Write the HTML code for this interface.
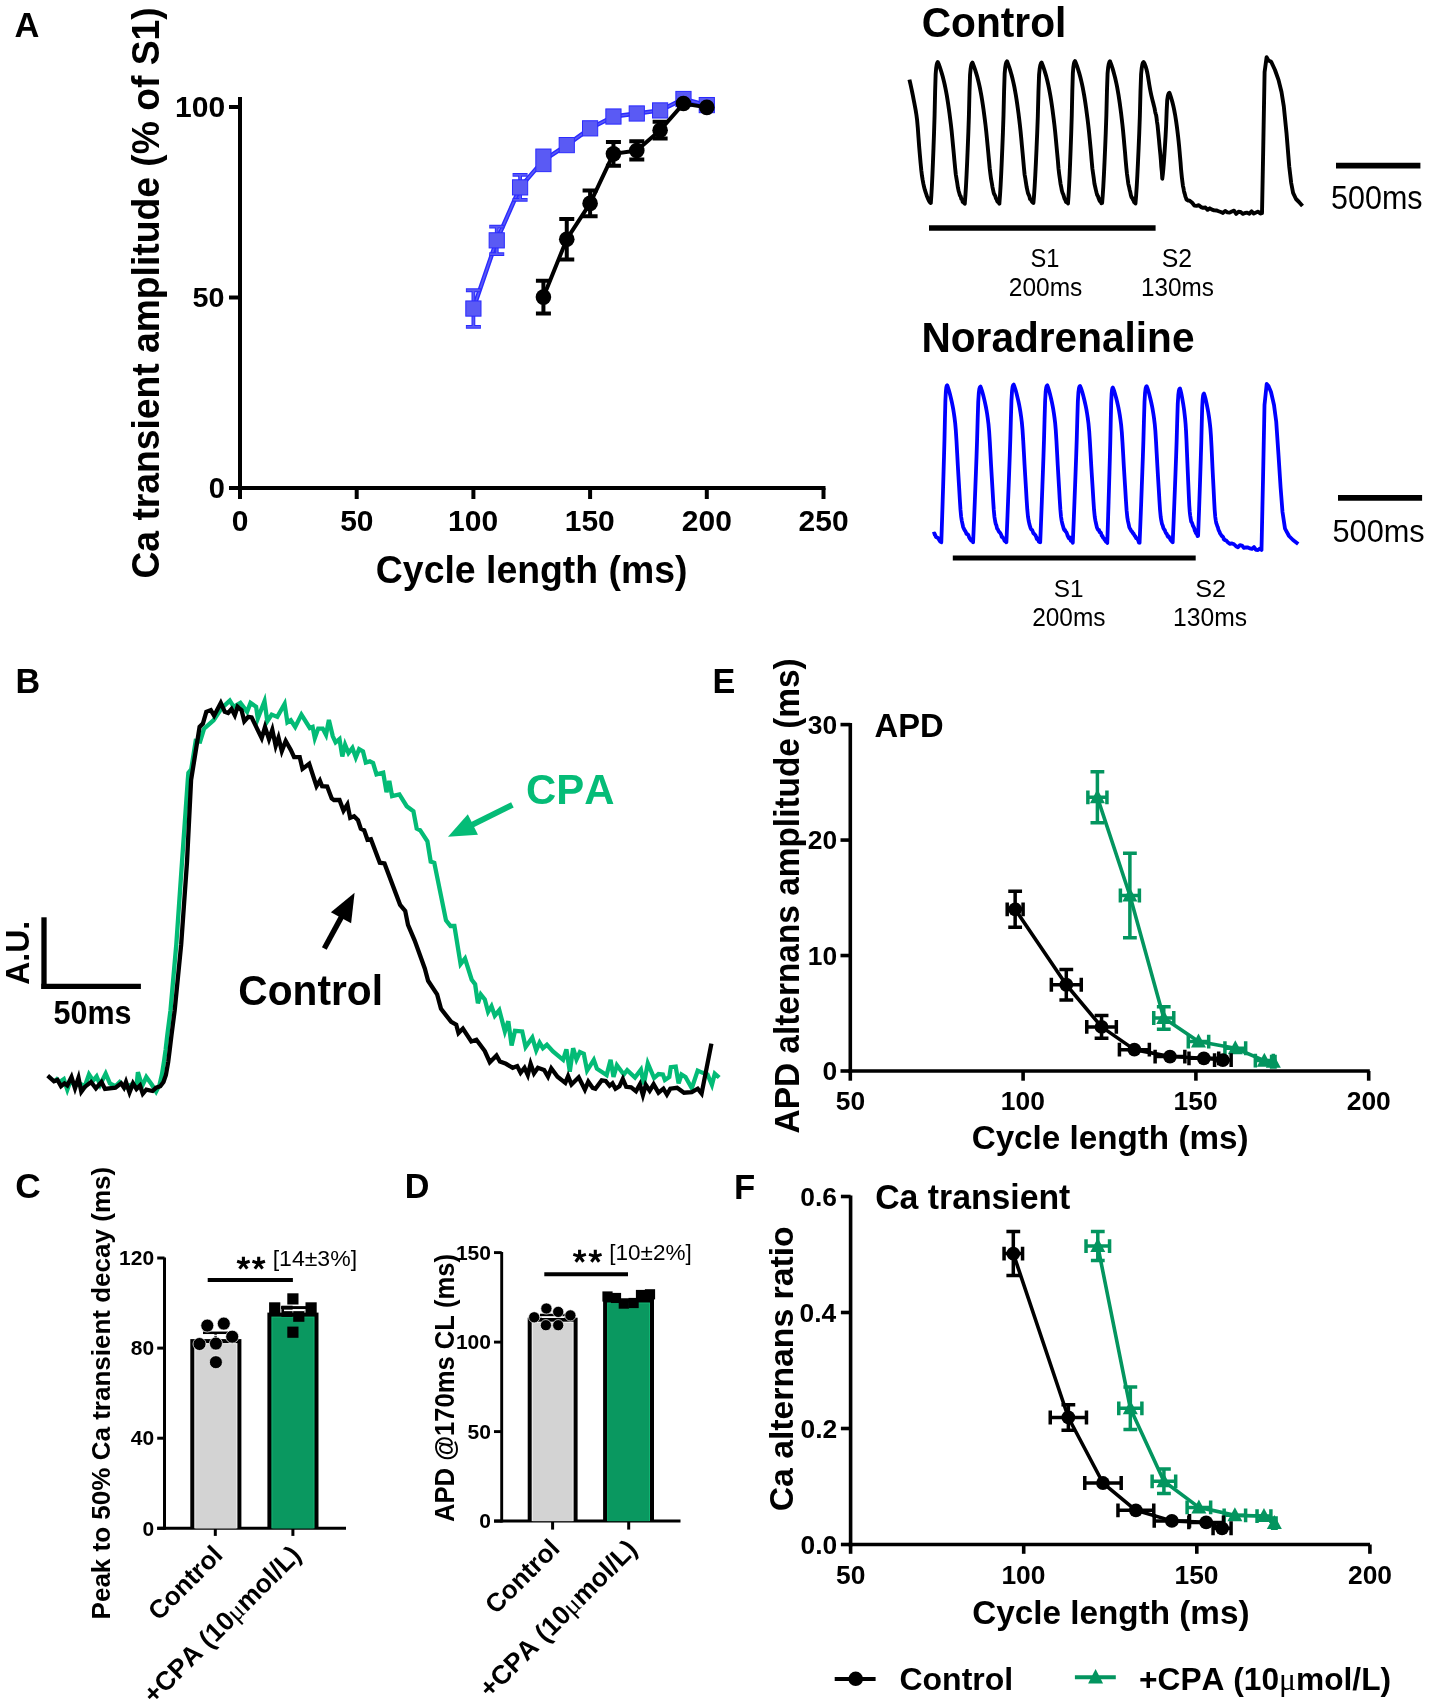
<!DOCTYPE html>
<html><head><meta charset="utf-8"><style>html,body{margin:0;padding:0;background:#fff;}svg{display:block;will-change:transform}text{font-kerning:none;font-feature-settings:'kern' 0;}</style></head>
<body><svg width="1430" height="1705" viewBox="0 0 1430 1705">
<rect width="1430" height="1705" fill="#fff"/>
<text transform="translate(14.44,36.90) scale(1.0000,1)" font-family="'Liberation Sans', sans-serif" font-weight="bold" font-size="34.45" fill="#000">A</text>
<line x1="240.00" y1="97.00" x2="240.00" y2="490.00" stroke="#000" stroke-width="4" stroke-linecap="butt"/>
<line x1="238.00" y1="488.00" x2="825.50" y2="488.00" stroke="#000" stroke-width="4" stroke-linecap="butt"/>
<line x1="229.00" y1="488.00" x2="240.00" y2="488.00" stroke="#000" stroke-width="4" stroke-linecap="butt"/>
<line x1="229.00" y1="297.50" x2="240.00" y2="297.50" stroke="#000" stroke-width="4" stroke-linecap="butt"/>
<line x1="229.00" y1="107.00" x2="240.00" y2="107.00" stroke="#000" stroke-width="4" stroke-linecap="butt"/>
<line x1="240.00" y1="488.00" x2="240.00" y2="499.00" stroke="#000" stroke-width="4" stroke-linecap="butt"/>
<line x1="356.70" y1="488.00" x2="356.70" y2="499.00" stroke="#000" stroke-width="4" stroke-linecap="butt"/>
<line x1="473.40" y1="488.00" x2="473.40" y2="499.00" stroke="#000" stroke-width="4" stroke-linecap="butt"/>
<line x1="590.10" y1="488.00" x2="590.10" y2="499.00" stroke="#000" stroke-width="4" stroke-linecap="butt"/>
<line x1="706.80" y1="488.00" x2="706.80" y2="499.00" stroke="#000" stroke-width="4" stroke-linecap="butt"/>
<line x1="823.50" y1="488.00" x2="823.50" y2="499.00" stroke="#000" stroke-width="4" stroke-linecap="butt"/>
<text transform="translate(175.11,116.60) scale(0.9939,1)" font-family="'Liberation Sans', sans-serif" font-weight="bold" font-size="30.23" fill="#000">100</text>
<text transform="translate(192.62,306.53) scale(1.0380,1)" font-family="'Liberation Sans', sans-serif" font-weight="bold" font-size="27.68" fill="#000">50</text>
<text transform="translate(208.65,497.51) scale(0.9783,1)" font-family="'Liberation Sans', sans-serif" font-weight="bold" font-size="29.66" fill="#000">0</text>
<text transform="translate(231.68,531.40) scale(0.9925,1)" font-family="'Liberation Sans', sans-serif" font-weight="bold" font-size="30.23" fill="#000">0</text>
<text transform="translate(340.17,531.40) scale(0.9925,1)" font-family="'Liberation Sans', sans-serif" font-weight="bold" font-size="30.23" fill="#000">50</text>
<text transform="translate(448.04,531.40) scale(0.9925,1)" font-family="'Liberation Sans', sans-serif" font-weight="bold" font-size="30.23" fill="#000">100</text>
<text transform="translate(564.74,531.40) scale(0.9925,1)" font-family="'Liberation Sans', sans-serif" font-weight="bold" font-size="30.23" fill="#000">150</text>
<text transform="translate(681.87,531.40) scale(0.9925,1)" font-family="'Liberation Sans', sans-serif" font-weight="bold" font-size="30.23" fill="#000">200</text>
<text transform="translate(798.57,531.40) scale(0.9925,1)" font-family="'Liberation Sans', sans-serif" font-weight="bold" font-size="30.23" fill="#000">250</text>
<text transform="translate(159.25,578.53) rotate(-90) scale(0.9728,1)" font-family="'Liberation Sans', sans-serif" font-weight="bold" font-size="38.30" fill="#000">Ca transient amplitude (% of S1)</text>
<text transform="translate(375.87,583.17) scale(0.9865,1)" font-family="'Liberation Sans', sans-serif" font-weight="bold" font-size="37.91" fill="#000">Cycle length (ms)</text>
<polyline points="473.40,308.55 496.74,240.35 520.08,187.39 543.42,160.34 566.76,145.10 590.10,128.34 613.44,116.52 636.78,113.48 660.12,110.43 683.46,99.00 706.80,105.09" fill="none" stroke="#2b2bff" stroke-width="4.4" stroke-linejoin="round" stroke-linecap="butt"/>
<polyline points="473.40,308.55 496.74,240.35 520.08,187.39 543.42,160.34 566.76,145.10 590.10,128.34 613.44,116.52 636.78,113.48 660.12,110.43 683.46,99.00 706.80,105.09" fill="none" stroke="#5a5af4" stroke-width="1.6" stroke-linejoin="round" stroke-linecap="butt"/>
<path d="M465.90,290.26H480.90M473.40,290.26V326.84M465.90,326.84H480.90" stroke="#2b2bff" stroke-width="3.8" fill="none"/>
<path d="M466.60,290.26H480.20M473.40,290.26V326.84M466.60,326.84H480.20" stroke="#5a5af4" stroke-width="1.8" fill="none"/>
<rect x="465.80" y="300.95" width="15.20" height="15.20" fill="#5a5af4" stroke="#2b2bff" stroke-width="1"/>
<path d="M489.24,226.63H504.24M496.74,226.63V254.07M489.24,254.07H504.24" stroke="#2b2bff" stroke-width="3.8" fill="none"/>
<path d="M489.94,226.63H503.54M496.74,226.63V254.07M489.94,254.07H503.54" stroke="#5a5af4" stroke-width="1.8" fill="none"/>
<rect x="489.14" y="232.75" width="15.20" height="15.20" fill="#5a5af4" stroke="#2b2bff" stroke-width="1"/>
<path d="M512.58,174.82H527.58M520.08,174.82V199.96M512.58,199.96H527.58" stroke="#2b2bff" stroke-width="3.8" fill="none"/>
<path d="M513.28,174.82H526.88M520.08,174.82V199.96M513.28,199.96H526.88" stroke="#5a5af4" stroke-width="1.8" fill="none"/>
<rect x="512.48" y="179.79" width="15.20" height="15.20" fill="#5a5af4" stroke="#2b2bff" stroke-width="1"/>
<rect x="535.82" y="149.04" width="15.20" height="22.60" fill="#5a5af4" stroke="#2b2bff" stroke-width="1"/>
<rect x="559.16" y="137.50" width="15.20" height="15.20" fill="#5a5af4" stroke="#2b2bff" stroke-width="1"/>
<rect x="582.50" y="120.74" width="15.20" height="15.20" fill="#5a5af4" stroke="#2b2bff" stroke-width="1"/>
<rect x="605.84" y="108.92" width="15.20" height="15.20" fill="#5a5af4" stroke="#2b2bff" stroke-width="1"/>
<rect x="629.18" y="105.88" width="15.20" height="15.20" fill="#5a5af4" stroke="#2b2bff" stroke-width="1"/>
<rect x="652.52" y="102.83" width="15.20" height="15.20" fill="#5a5af4" stroke="#2b2bff" stroke-width="1"/>
<rect x="675.86" y="91.40" width="15.20" height="15.20" fill="#5a5af4" stroke="#2b2bff" stroke-width="1"/>
<rect x="699.20" y="97.49" width="15.20" height="15.20" fill="#5a5af4" stroke="#2b2bff" stroke-width="1"/>
<polyline points="543.42,297.12 566.76,239.21 590.10,203.39 613.44,153.86 636.78,150.43 660.12,130.24 683.46,103.57 706.80,107.38" fill="none" stroke="#000" stroke-width="4" stroke-linejoin="round" stroke-linecap="butt"/>
<path d="M535.92,280.74H550.92M543.42,280.74V313.50M535.92,313.50H550.92" stroke="#000" stroke-width="4" fill="none"/>
<circle cx="543.42" cy="297.12" r="7.80" fill="#000"/>
<path d="M559.26,219.01H574.26M566.76,219.01V259.40M559.26,259.40H574.26" stroke="#000" stroke-width="4" fill="none"/>
<circle cx="566.76" cy="239.21" r="7.80" fill="#000"/>
<path d="M582.60,190.44H597.60M590.10,190.44V216.35M582.60,216.35H597.60" stroke="#000" stroke-width="4" fill="none"/>
<circle cx="590.10" cy="203.39" r="7.80" fill="#000"/>
<path d="M605.94,142.05H620.94M613.44,142.05V165.67M605.94,165.67H620.94" stroke="#000" stroke-width="4" fill="none"/>
<circle cx="613.44" cy="153.86" r="7.80" fill="#000"/>
<path d="M629.28,141.29H644.28M636.78,141.29V159.58M629.28,159.58H644.28" stroke="#000" stroke-width="4" fill="none"/>
<circle cx="636.78" cy="150.43" r="7.80" fill="#000"/>
<path d="M652.62,121.86H667.62M660.12,121.86V138.62M652.62,138.62H667.62" stroke="#000" stroke-width="4" fill="none"/>
<circle cx="660.12" cy="130.24" r="7.80" fill="#000"/>
<circle cx="683.46" cy="103.57" r="7.80" fill="#000"/>
<circle cx="706.80" cy="107.38" r="7.80" fill="#000"/>
<polyline points="909.40,79.60 910.10,82.53 910.80,85.62 911.50,88.86 912.20,92.24 912.90,95.74 913.60,99.35 914.30,102.97 915.00,106.53 915.70,110.34 916.40,114.72 917.10,120.05 917.80,127.87 918.50,137.53 919.20,147.10 919.90,155.24 920.60,163.14 921.30,170.29 922.00,175.90 922.70,180.17 923.40,183.88 924.10,187.05 924.80,189.70 925.50,191.91 926.20,194.00 926.90,195.98 927.60,197.82 928.30,199.46 929.00,200.86 929.70,201.96 930.80,203.00 931.34,195.70 931.88,186.24 932.42,174.94 932.95,162.12 933.49,148.09 934.03,133.15 934.57,115.89 935.11,91.81 935.65,74.10 936.18,67.97 936.72,64.48 937.26,62.76 937.80,62.00 938.49,63.57 939.18,65.33 939.88,67.25 940.57,69.32 941.26,71.52 941.95,73.84 942.65,76.27 943.34,78.89 944.03,81.71 944.72,84.76 945.42,88.04 946.11,91.57 946.80,95.42 947.49,99.61 948.18,104.11 948.88,108.92 949.57,114.03 950.26,119.40 950.95,125.04 951.65,131.31 952.34,138.37 953.03,145.70 953.72,152.85 954.42,160.60 955.11,167.85 955.80,174.52 956.49,178.56 957.18,182.76 957.88,187.44 958.57,190.68 959.26,193.03 959.95,195.60 960.65,196.21 961.34,198.90 962.03,199.32 962.72,201.87 963.42,202.32 964.11,202.94 964.80,203.75 964.80,203.00 965.38,195.73 965.97,186.31 966.55,175.06 967.14,162.29 967.72,148.32 968.31,133.45 968.89,116.26 969.48,92.28 970.06,74.65 970.65,68.55 971.23,65.07 971.82,63.36 972.40,62.60 973.09,64.16 973.78,65.91 974.48,67.83 975.17,69.89 975.86,72.08 976.55,74.39 977.25,76.81 977.94,79.42 978.63,82.23 979.32,85.26 980.02,88.53 980.71,92.05 981.40,95.88 982.09,100.05 982.78,104.53 983.48,109.33 984.17,114.41 984.86,119.76 985.55,125.37 986.25,131.61 986.94,138.65 987.63,145.94 988.32,153.07 989.02,160.72 989.71,168.25 990.40,173.98 991.09,179.14 991.78,182.76 992.48,187.08 993.17,190.39 993.86,193.41 994.55,194.79 995.25,195.94 995.94,198.40 996.63,199.39 997.32,201.52 998.02,201.95 998.71,202.58 999.40,203.66 999.40,203.00 999.98,195.66 1000.57,186.16 1001.15,174.80 1001.74,161.92 1002.32,147.81 1002.91,132.81 1003.49,115.45 1004.08,91.26 1004.66,73.46 1005.25,67.30 1005.83,63.79 1006.42,62.07 1007.00,61.30 1007.68,62.88 1008.35,64.64 1009.03,66.57 1009.71,68.66 1010.38,70.87 1011.06,73.20 1011.74,75.64 1012.42,78.27 1013.09,81.11 1013.77,84.17 1014.45,87.47 1015.12,91.02 1015.80,94.89 1016.48,99.09 1017.15,103.62 1017.83,108.46 1018.51,113.59 1019.18,118.99 1019.86,124.65 1020.54,130.95 1021.22,138.05 1021.89,145.41 1022.57,152.61 1023.25,160.20 1023.92,167.66 1024.60,174.53 1025.28,178.27 1025.95,182.65 1026.63,186.98 1027.31,190.06 1027.98,193.14 1028.66,194.62 1029.34,196.16 1030.02,199.01 1030.69,199.42 1031.37,200.55 1032.05,201.77 1032.72,202.51 1033.40,202.56 1033.40,203.00 1034.03,195.73 1034.66,186.31 1035.29,175.06 1035.92,162.29 1036.55,148.32 1037.18,133.45 1037.82,116.26 1038.45,92.28 1039.08,74.65 1039.71,68.55 1040.34,65.07 1040.97,63.36 1041.60,62.60 1042.28,64.16 1042.95,65.91 1043.63,67.83 1044.31,69.89 1044.98,72.08 1045.66,74.39 1046.34,76.81 1047.02,79.42 1047.69,82.23 1048.37,85.26 1049.05,88.53 1049.72,92.05 1050.40,95.88 1051.08,100.05 1051.75,104.53 1052.43,109.33 1053.11,114.41 1053.78,119.76 1054.46,125.37 1055.14,131.61 1055.82,138.65 1056.49,145.94 1057.17,153.07 1057.85,160.30 1058.52,168.49 1059.20,174.16 1059.88,178.95 1060.55,183.78 1061.23,187.10 1061.91,190.79 1062.58,192.99 1063.26,194.41 1063.94,196.61 1064.62,198.96 1065.29,199.96 1065.97,201.88 1066.65,201.33 1067.32,202.52 1068.00,203.43 1068.00,203.00 1068.54,195.65 1069.08,186.12 1069.62,174.74 1070.15,161.83 1070.69,147.70 1071.23,132.66 1071.77,115.27 1072.31,91.02 1072.85,73.19 1073.38,67.02 1073.92,63.50 1074.46,61.77 1075.00,61.00 1075.69,62.58 1076.39,64.35 1077.08,66.28 1077.78,68.37 1078.47,70.59 1079.17,72.92 1079.86,75.37 1080.56,78.01 1081.25,80.85 1081.95,83.92 1082.64,87.22 1083.34,90.78 1084.03,94.66 1084.73,98.87 1085.42,103.41 1086.12,108.26 1086.81,113.40 1087.51,118.81 1088.20,124.49 1088.90,130.80 1089.59,137.91 1090.29,145.29 1090.98,152.50 1091.68,160.80 1092.37,168.51 1093.07,173.56 1093.76,178.26 1094.46,183.76 1095.15,186.77 1095.85,189.82 1096.54,192.66 1097.24,195.12 1097.93,196.09 1098.63,198.29 1099.32,200.08 1100.02,201.47 1100.71,201.34 1101.41,203.27 1102.10,202.89 1102.10,203.00 1102.71,195.66 1103.32,186.16 1103.92,174.80 1104.53,161.92 1105.14,147.81 1105.75,132.81 1106.35,115.45 1106.96,91.26 1107.57,73.46 1108.18,67.30 1108.78,63.79 1109.39,62.07 1110.00,61.30 1110.65,62.88 1111.31,64.64 1111.96,66.57 1112.62,68.66 1113.27,70.87 1113.92,73.20 1114.58,75.64 1115.23,78.27 1115.88,81.11 1116.54,84.17 1117.19,87.47 1117.85,91.02 1118.50,94.89 1119.15,99.09 1119.81,103.62 1120.46,108.46 1121.12,113.59 1121.77,118.99 1122.42,124.65 1123.08,130.95 1123.73,138.05 1124.38,145.41 1125.04,152.61 1125.69,160.60 1126.35,167.86 1127.00,173.94 1127.65,178.82 1128.31,183.85 1128.96,186.46 1129.62,189.65 1130.27,192.09 1130.92,195.45 1131.58,197.43 1132.23,197.90 1132.88,199.46 1133.54,200.64 1134.19,202.28 1134.85,202.75 1135.50,203.51 1135.50,203.00 1136.12,195.70 1136.75,186.24 1137.37,174.94 1137.99,162.12 1138.62,148.09 1139.24,133.15 1139.86,115.89 1140.48,91.81 1141.11,74.10 1141.73,67.97 1142.35,64.48 1142.98,62.76 1143.60,62.00 1144.08,62.73 1144.56,63.70 1145.04,64.86 1145.52,66.19 1146.00,67.65 1146.48,69.23 1146.96,71.16 1147.44,73.50 1147.92,76.15 1148.39,79.01 1148.87,81.98 1149.35,84.95 1149.83,87.82 1150.31,90.48 1150.79,92.88 1151.27,95.08 1151.75,97.13 1152.23,99.09 1152.71,100.98 1153.19,102.84 1153.67,104.72 1154.15,106.64 1154.63,108.66 1155.11,111.33 1155.59,113.50 1156.07,114.92 1156.55,117.91 1157.03,122.01 1157.51,125.07 1157.98,129.62 1158.46,134.55 1158.94,139.38 1159.42,144.77 1159.90,149.71 1160.38,154.49 1160.86,159.96 1161.34,167.03 1161.82,171.45 1162.30,178.71 1162.30,178.40 1162.85,173.97 1163.39,168.23 1163.94,161.37 1164.48,153.58 1165.03,145.06 1165.58,136.00 1166.12,125.51 1166.67,110.90 1167.22,100.15 1167.76,96.43 1168.31,94.31 1168.85,93.26 1169.40,92.80 1169.88,94.00 1170.37,95.35 1170.85,96.83 1171.34,98.42 1171.82,100.11 1172.31,101.88 1172.79,103.75 1173.28,105.76 1173.76,107.93 1174.25,110.26 1174.73,112.78 1175.22,115.49 1175.70,118.45 1176.18,121.66 1176.67,125.12 1177.15,128.81 1177.64,132.72 1178.12,136.85 1178.61,141.18 1179.09,145.98 1179.58,151.41 1180.06,157.03 1180.55,162.52 1181.03,168.92 1181.52,174.02 1182.00,178.60 1182.48,182.18 1182.97,186.10 1183.45,188.03 1183.94,190.83 1184.42,192.95 1184.91,194.42 1185.39,196.52 1185.88,197.57 1186.36,199.23 1186.85,199.89 1187.33,200.00 1187.82,200.54 1188.30,200.40 1190.00,200.96 1192.20,202.70 1194.40,205.61 1196.60,205.90 1198.80,205.21 1201.00,207.06 1203.20,207.89 1205.40,207.47 1207.60,209.84 1209.80,208.33 1212.00,209.64 1214.20,210.41 1216.40,210.46 1218.60,211.25 1220.80,211.99 1223.00,212.91 1225.20,210.96 1227.40,212.31 1229.60,212.62 1231.80,211.47 1234.00,210.66 1236.20,213.88 1238.40,211.81 1240.60,211.95 1242.80,213.87 1245.00,212.96 1247.20,212.65 1249.40,213.67 1251.60,211.34 1253.80,213.55 1256.00,212.52 1258.20,211.64 1260.40,213.50 1262.00,213.20 1263.20,150.00 1264.60,72.00 1266.60,57.30 1268.50,60.50 1271.20,61.80 1275.00,70.00 1278.50,79.90 1281.50,92.00 1283.80,106.40 1286.50,133.00 1289.20,166.20 1291.20,183.00 1293.10,192.80 1296.00,199.00 1299.00,202.00 1302.50,206.10" fill="none" stroke="#000" stroke-width="3.9" stroke-linejoin="round" stroke-linecap="butt"/>
<text transform="translate(921.63,37.28) scale(0.9554,1)" font-family="'Liberation Sans', sans-serif" font-weight="bold" font-size="42.62" fill="#000">Control</text>
<line x1="1336.00" y1="165.70" x2="1420.40" y2="165.70" stroke="#000" stroke-width="5.7" stroke-linecap="butt"/>
<text transform="translate(1331.08,209.08) scale(0.9295,1)" font-family="'Liberation Sans', sans-serif" font-weight="normal" font-size="32.77" fill="#000">500ms</text>
<line x1="929.00" y1="228.00" x2="1155.60" y2="228.00" stroke="#000" stroke-width="5.5" stroke-linecap="butt"/>
<text transform="translate(1030.43,267.15) scale(0.9201,1)" font-family="'Liberation Sans', sans-serif" font-weight="normal" font-size="25.71" fill="#000">S1</text>
<text transform="translate(1008.77,296.35) scale(0.9594,1)" font-family="'Liberation Sans', sans-serif" font-weight="normal" font-size="25.56" fill="#000">200ms</text>
<text transform="translate(1161.67,267.15) scale(0.9661,1)" font-family="'Liberation Sans', sans-serif" font-weight="normal" font-size="25.71" fill="#000">S2</text>
<text transform="translate(1140.95,296.35) scale(0.9504,1)" font-family="'Liberation Sans', sans-serif" font-weight="normal" font-size="25.56" fill="#000">130ms</text>
<text transform="translate(921.48,351.68) scale(0.9496,1)" font-family="'Liberation Sans', sans-serif" font-weight="bold" font-size="42.76" fill="#000">Noradrenaline</text>
<polyline points="932.60,534.10 934.50,533.50 936.00,537.00 938.00,538.00 940.00,541.40 941.30,542.30 941.75,529.12 942.21,515.39 942.66,501.16 943.12,486.47 943.57,471.38 944.02,455.94 944.48,439.33 944.93,419.05 945.38,401.00 945.84,391.78 946.29,387.53 946.75,385.80 947.20,385.30 947.86,387.01 948.53,389.01 949.19,391.26 949.86,393.73 950.52,396.41 951.18,399.22 951.85,402.16 952.51,405.36 953.18,408.93 953.84,412.98 954.51,417.63 955.17,423.00 955.83,430.52 956.50,441.00 957.16,453.10 957.83,465.48 958.49,476.79 959.15,487.92 959.82,499.48 960.48,509.69 961.15,516.74 961.81,520.83 962.47,523.93 963.14,526.98 963.80,528.61 964.47,529.84 965.13,530.82 965.79,531.93 966.46,533.93 967.12,534.12 967.79,534.33 968.45,535.36 969.12,537.41 969.78,538.66 970.44,539.38 971.11,540.49 971.77,540.42 972.44,541.34 973.10,541.83 973.10,542.30 973.67,529.23 974.24,515.61 974.81,501.50 975.38,486.93 975.95,471.96 976.52,456.65 977.08,440.18 977.65,420.07 978.22,402.17 978.79,393.03 979.36,388.82 979.93,387.10 980.50,386.60 981.16,388.30 981.83,390.27 982.49,392.51 983.16,394.96 983.82,397.62 984.48,400.40 985.15,403.32 985.81,406.49 986.48,410.03 987.14,414.05 987.81,418.66 988.47,423.99 989.13,431.45 989.80,441.84 990.46,453.84 991.13,466.11 991.79,477.33 992.45,488.37 993.12,499.84 993.78,509.96 994.45,516.95 995.11,521.01 995.77,524.08 996.44,525.61 997.10,528.72 997.77,529.35 998.43,530.84 999.09,531.87 999.76,532.47 1000.42,533.24 1001.09,534.58 1001.75,536.97 1002.42,536.94 1003.08,538.07 1003.74,538.68 1004.41,540.50 1005.07,541.25 1005.74,541.37 1006.40,542.31 1006.40,542.30 1006.96,529.06 1007.52,515.27 1008.08,500.97 1008.65,486.22 1009.21,471.06 1009.77,455.55 1010.33,438.87 1010.89,418.50 1011.45,400.37 1012.02,391.11 1012.58,386.84 1013.14,385.11 1013.70,384.60 1014.38,386.32 1015.06,388.32 1015.74,390.58 1016.42,393.07 1017.10,395.76 1017.78,398.58 1018.46,401.54 1019.14,404.75 1019.82,408.33 1020.49,412.40 1021.17,417.08 1021.85,422.47 1022.53,430.02 1023.21,440.55 1023.89,452.70 1024.57,465.13 1025.25,476.50 1025.93,487.68 1026.61,499.29 1027.29,509.54 1027.97,516.63 1028.65,520.74 1029.33,523.85 1030.01,526.18 1030.69,528.39 1031.37,529.63 1032.05,529.78 1032.73,531.38 1033.41,533.35 1034.08,533.74 1034.76,534.52 1035.44,535.18 1036.12,536.72 1036.80,539.04 1037.48,538.21 1038.16,540.10 1038.84,541.64 1039.52,541.99 1040.20,541.86 1040.20,542.30 1040.75,529.12 1041.29,515.39 1041.84,501.16 1042.38,486.47 1042.93,471.38 1043.48,455.94 1044.02,439.33 1044.57,419.05 1045.12,401.00 1045.66,391.78 1046.21,387.53 1046.75,385.80 1047.30,385.30 1047.95,387.01 1048.61,389.01 1049.26,391.26 1049.92,393.73 1050.57,396.41 1051.22,399.22 1051.88,402.16 1052.53,405.36 1053.18,408.93 1053.84,412.98 1054.49,417.63 1055.15,423.00 1055.80,430.52 1056.45,441.00 1057.11,453.10 1057.76,465.48 1058.42,476.79 1059.07,487.92 1059.72,499.48 1060.38,509.69 1061.03,516.74 1061.68,520.83 1062.34,523.93 1062.99,526.05 1063.65,528.45 1064.30,530.08 1064.95,529.99 1065.61,531.53 1066.26,532.09 1066.92,533.55 1067.57,535.63 1068.22,537.08 1068.88,538.18 1069.53,537.33 1070.18,538.93 1070.84,540.75 1071.49,540.84 1072.15,541.30 1072.80,542.86 1072.80,542.30 1073.36,529.17 1073.92,515.49 1074.48,501.31 1075.05,486.68 1075.61,471.65 1076.17,456.27 1076.73,439.73 1077.29,419.52 1077.85,401.54 1078.42,392.36 1078.98,388.13 1079.54,386.40 1080.10,385.90 1080.80,387.60 1081.49,389.59 1082.19,391.83 1082.89,394.30 1083.59,396.97 1084.28,399.76 1084.98,402.70 1085.68,405.88 1086.38,409.44 1087.07,413.47 1087.77,418.11 1088.47,423.45 1089.17,430.95 1089.86,441.39 1090.56,453.44 1091.26,465.77 1091.96,477.04 1092.65,488.13 1093.35,499.64 1094.05,509.81 1094.75,516.84 1095.44,520.92 1096.14,524.00 1096.84,527.17 1097.54,528.89 1098.23,530.02 1098.93,529.86 1099.63,532.21 1100.33,532.14 1101.02,533.13 1101.72,535.87 1102.42,535.84 1103.12,537.73 1103.81,538.27 1104.51,539.70 1105.21,540.29 1105.91,541.78 1106.60,541.55 1107.30,543.01 1107.30,542.30 1107.73,529.32 1108.16,515.79 1108.59,501.76 1109.02,487.28 1109.45,472.42 1109.88,457.20 1110.32,440.84 1110.75,420.86 1111.18,403.07 1111.61,393.99 1112.04,389.80 1112.47,388.10 1112.90,387.60 1113.58,389.29 1114.27,391.25 1114.95,393.47 1115.64,395.91 1116.32,398.55 1117.01,401.31 1117.69,404.21 1118.38,407.37 1119.06,410.88 1119.75,414.87 1120.43,419.46 1121.12,424.75 1121.80,432.16 1122.48,442.48 1123.17,454.41 1123.85,466.60 1124.54,477.75 1125.22,488.72 1125.91,500.11 1126.59,510.16 1127.28,517.11 1127.96,521.15 1128.65,524.20 1129.33,527.40 1130.02,528.67 1130.70,529.76 1131.38,531.23 1132.07,531.49 1132.75,533.11 1133.44,533.37 1134.12,534.82 1134.81,535.87 1135.49,536.63 1136.18,538.09 1136.86,538.30 1137.55,539.09 1138.23,540.52 1138.92,542.59 1139.60,542.75 1139.60,542.30 1140.15,529.20 1140.69,515.55 1141.24,501.39 1141.78,486.79 1142.33,471.78 1142.88,456.43 1143.42,439.92 1143.97,419.76 1144.52,401.81 1145.06,392.65 1145.61,388.42 1146.15,386.70 1146.70,386.20 1147.37,387.90 1148.03,389.88 1148.70,392.12 1149.37,394.59 1150.03,397.25 1150.70,400.04 1151.37,402.96 1152.03,406.15 1152.70,409.69 1153.37,413.72 1154.03,418.35 1154.70,423.68 1155.37,431.16 1156.03,441.58 1156.70,453.61 1157.37,465.92 1158.03,477.17 1158.70,488.23 1159.37,499.73 1160.03,509.87 1160.70,516.89 1161.37,520.96 1162.03,524.04 1162.70,525.59 1163.37,528.11 1164.03,529.18 1164.70,529.99 1165.37,531.76 1166.03,533.36 1166.70,533.73 1167.37,535.63 1168.03,536.82 1168.70,536.28 1169.37,537.65 1170.03,538.71 1170.70,540.20 1171.37,540.81 1172.03,541.74 1172.70,541.45 1172.70,542.30 1173.26,529.38 1173.82,515.92 1174.38,501.97 1174.95,487.57 1175.51,472.78 1176.07,457.64 1176.63,441.36 1177.19,421.49 1177.75,403.79 1178.32,394.76 1178.88,390.59 1179.44,388.89 1180.00,388.40 1180.46,390.01 1180.93,391.88 1181.39,394.00 1181.86,396.32 1182.32,398.84 1182.78,401.47 1183.25,404.24 1183.71,407.25 1184.18,410.60 1184.64,414.41 1185.11,418.78 1185.57,423.82 1186.03,430.88 1186.50,440.73 1186.96,452.10 1187.43,463.72 1187.89,474.35 1188.35,484.81 1188.82,495.67 1189.28,505.26 1189.75,511.89 1190.21,515.73 1190.67,518.64 1191.14,521.54 1191.60,522.16 1192.07,522.98 1192.53,524.36 1192.99,525.98 1193.46,526.55 1193.92,527.54 1194.39,528.74 1194.85,530.93 1195.32,530.20 1195.78,532.89 1196.24,532.81 1196.71,534.22 1197.17,534.54 1197.64,536.13 1198.10,535.26 1198.10,535.90 1198.55,523.95 1199.01,511.49 1199.46,498.58 1199.92,485.26 1200.37,471.57 1200.82,457.57 1201.28,442.51 1201.73,424.11 1202.18,407.74 1202.64,399.38 1203.09,395.53 1203.55,393.96 1204.00,393.50 1204.53,395.10 1205.07,396.96 1205.60,399.07 1206.13,401.39 1206.67,403.89 1207.20,406.51 1207.73,409.27 1208.27,412.26 1208.80,415.59 1209.33,419.38 1209.87,423.73 1210.40,428.75 1210.93,435.78 1211.47,445.58 1212.00,456.89 1212.53,468.47 1213.07,479.05 1213.60,489.45 1214.13,500.26 1214.67,509.80 1215.20,516.40 1215.73,520.23 1216.27,523.12 1216.80,524.50 1217.33,526.24 1217.87,527.40 1218.40,529.50 1218.93,530.77 1219.47,531.65 1220.00,533.37 1220.53,533.98 1221.07,534.88 1221.60,535.76 1222.13,536.47 1222.67,536.48 1223.20,537.35 1223.73,539.21 1224.27,539.07 1224.80,540.13 1226.00,540.28 1228.00,542.49 1230.00,543.85 1232.00,543.39 1234.00,544.26 1236.00,546.27 1238.00,547.29 1240.00,545.15 1242.00,545.52 1244.00,547.94 1246.00,547.46 1248.00,547.52 1250.00,548.38 1252.00,548.96 1254.00,547.07 1256.00,549.89 1258.00,550.02 1260.00,548.51 1261.50,549.90 1263.00,480.00 1264.50,405.00 1266.70,383.90 1268.50,386.00 1271.00,392.00 1274.00,405.00 1276.20,421.40 1278.50,455.00 1280.60,487.50 1282.50,512.00 1285.00,528.60 1289.00,536.00 1293.00,540.00 1298.20,544.00" fill="none" stroke="#0000ff" stroke-width="3.8" stroke-linejoin="round" stroke-linecap="butt"/>
<line x1="1338.00" y1="497.80" x2="1422.10" y2="497.80" stroke="#000" stroke-width="5.7" stroke-linecap="butt"/>
<text transform="translate(1332.47,542.09) scale(0.9714,1)" font-family="'Liberation Sans', sans-serif" font-weight="normal" font-size="31.64" fill="#000">500ms</text>
<line x1="952.80" y1="558.00" x2="1195.70" y2="558.00" stroke="#000" stroke-width="5.0" stroke-linecap="butt"/>
<text transform="translate(1053.69,597.46) scale(1.0086,1)" font-family="'Liberation Sans', sans-serif" font-weight="normal" font-size="24.15" fill="#000">S1</text>
<text transform="translate(1032.17,625.95) scale(0.9729,1)" font-family="'Liberation Sans', sans-serif" font-weight="normal" font-size="25.14" fill="#000">200ms</text>
<text transform="translate(1195.25,597.46) scale(1.0466,1)" font-family="'Liberation Sans', sans-serif" font-weight="normal" font-size="24.15" fill="#000">S2</text>
<text transform="translate(1173.12,625.95) scale(0.9816,1)" font-family="'Liberation Sans', sans-serif" font-weight="normal" font-size="25.14" fill="#000">130ms</text>
<text transform="translate(15.52,692.90) scale(1.0000,1)" font-family="'Liberation Sans', sans-serif" font-weight="bold" font-size="34.16" fill="#000">B</text>
<line x1="44.00" y1="917.30" x2="44.00" y2="989.00" stroke="#000" stroke-width="5.3" stroke-linecap="butt"/>
<line x1="41.30" y1="986.40" x2="140.90" y2="986.40" stroke="#000" stroke-width="5.3" stroke-linecap="butt"/>
<text transform="translate(29.08,984.80) rotate(-90) scale(0.9624,1)" font-family="'Liberation Sans', sans-serif" font-weight="bold" font-size="33.25" fill="#000">A.U.</text>
<text transform="translate(53.56,1024.08) scale(0.9226,1)" font-family="'Liberation Sans', sans-serif" font-weight="bold" font-size="33.05" fill="#000">50ms</text>
<text transform="translate(238.33,1004.59) scale(0.9609,1)" font-family="'Liberation Sans', sans-serif" font-weight="bold" font-size="42.35" fill="#000">Control</text>
<text transform="translate(525.98,804.48) scale(0.9701,1)" font-family="'Liberation Sans', sans-serif" font-weight="bold" font-size="43.22" fill="#05bc77">CPA</text>
<polyline points="55.40,1077.80 59.60,1082.00 63.80,1079.20 67.30,1089.70 70.10,1082.00 72.90,1083.40 76.40,1084.80 80.60,1084.10 84.80,1086.20 89.00,1074.30 93.10,1080.60 96.60,1076.40 100.10,1084.80 105.70,1073.60 109.90,1083.40 115.50,1086.20 119.70,1082.00 125.30,1087.60 130.90,1084.80 136.50,1086.20 137.90,1072.20 142.10,1086.20 146.30,1077.10 151.90,1084.80 156.10,1091.70 159.50,1085.00 162.00,1074.00 164.20,1060.00 165.60,1050.00 167.30,1035.00 170.50,1010.20 176.30,944.40 182.00,862.20 187.80,780.00 188.40,772.80 191.20,769.40 195.70,740.90 200.10,741.50 204.10,728.60 213.60,720.20 221.40,708.50 229.80,700.60 233.70,706.80 240.40,702.90 247.10,711.80 250.50,702.90 256.10,706.80 257.80,718.50 264.50,701.20 267.30,721.30 271.70,714.60 277.30,716.90 284.60,704.00 287.40,722.40 290.80,720.20 295.20,726.90 301.40,714.60 309.80,728.00 312.60,726.90 314.80,738.10 318.20,728.60 322.70,728.60 326.00,734.80 328.90,720.00 332.80,736.30 335.60,742.40 339.50,739.10 342.30,756.40 345.10,744.70 348.50,753.00 352.40,748.00 355.80,757.50 359.10,749.10 363.00,751.40 365.80,762.60 369.80,761.40 373.10,763.10 376.50,774.30 383.20,772.60 386.50,792.20 389.30,781.00 392.10,796.10 399.40,794.40 406.70,806.20 413.40,811.20 416.70,828.60 420.10,830.20 427.40,841.40 430.70,861.60 434.30,862.80 446.00,920.40 450.50,926.00 454.40,926.00 460.60,964.10 465.00,958.50 471.70,979.70 475.10,984.20 477.90,1003.20 480.80,994.50 484.80,999.50 488.10,1011.80 491.50,1006.20 494.80,1015.70 499.30,1010.10 504.90,1031.40 508.30,1021.30 511.60,1045.40 515.00,1030.80 522.20,1031.40 525.60,1047.10 532.30,1037.60 536.20,1050.40 539.60,1042.60 542.90,1048.20 546.90,1044.80 553.00,1051.50 563.10,1059.90 566.40,1049.30 569.80,1071.70 573.10,1048.20 576.50,1059.40 579.90,1052.10 583.80,1053.80 587.10,1070.60 593.80,1059.90 596.90,1068.70 606.60,1075.00 610.60,1059.90 613.50,1077.00 616.90,1065.20 623.80,1074.50 627.20,1070.10 635.00,1077.50 640.90,1069.70 643.80,1084.30 647.80,1063.30 654.10,1078.00 658.50,1074.10 662.90,1074.50 664.90,1079.90 669.30,1077.00 670.80,1067.20 675.70,1066.70 678.60,1083.40 681.50,1074.50 685.50,1077.00 691.80,1088.30 697.70,1070.60 702.10,1072.60 707.50,1074.50 711.90,1084.80 714.80,1073.60 719.20,1077.50" fill="none" stroke="#03bb76" stroke-width="4.3" stroke-linejoin="miter" stroke-linecap="butt"/>
<polyline points="47.70,1075.70 54.00,1081.30 57.50,1079.90 61.00,1086.20 64.50,1083.40 67.30,1085.50 71.50,1077.10 75.00,1088.30 78.50,1077.80 81.30,1091.70 84.80,1086.90 91.00,1082.00 95.90,1088.30 101.50,1082.00 105.00,1089.00 115.50,1087.60 121.10,1083.40 123.90,1087.60 126.00,1082.00 129.50,1092.40 133.00,1083.40 136.50,1089.00 140.00,1085.50 142.80,1093.80 146.30,1089.70 152.60,1091.00 156.10,1087.60 160.30,1086.20 163.50,1082.00 165.90,1075.00 168.20,1062.00 169.70,1050.00 171.50,1035.00 174.70,1010.20 181.20,944.40 187.00,862.20 191.10,780.00 199.60,726.90 202.90,723.60 206.30,711.80 210.80,710.10 214.10,715.70 220.80,702.90 224.80,711.80 228.10,712.90 231.50,709.00 234.80,715.20 237.60,706.80 241.50,710.10 244.30,721.30 248.30,716.90 251.60,717.40 261.70,738.10 265.00,726.90 269.00,739.20 272.30,729.70 275.70,745.90 278.50,737.60 281.80,751.00 285.70,740.90 290.80,749.90 294.10,757.10 299.70,757.10 302.50,768.90 309.20,763.80 316.50,786.20 319.90,780.60 322.10,786.20 327.20,786.60 331.70,798.40 334.00,800.00 339.50,800.00 343.50,810.70 347.40,804.50 350.20,817.90 354.10,816.30 358.00,820.20 360.80,828.60 364.20,830.20 367.50,839.80 370.90,839.20 379.80,862.70 384.50,863.40 400.10,904.80 405.20,910.90 408.00,924.90 414.70,940.60 424.80,968.50 428.10,980.80 437.10,994.30 441.00,1008.80 451.20,1021.90 456.20,1024.70 458.50,1033.10 462.90,1028.60 471.30,1041.50 476.40,1039.80 484.80,1051.00 489.80,1062.20 496.50,1055.50 499.90,1061.60 506.00,1063.80 512.70,1067.80 517.20,1066.10 520.60,1072.80 524.50,1067.80 527.80,1075.00 530.60,1063.80 534.00,1073.40 537.90,1067.80 544.10,1070.00 548.00,1076.70 551.30,1068.30 557.50,1076.70 565.30,1082.90 568.10,1076.20 571.50,1084.50 578.70,1077.30 584.90,1089.60 588.30,1081.70 592.70,1087.90 595.40,1088.70 601.70,1080.40 605.70,1080.90 609.60,1085.80 612.50,1083.40 615.50,1088.70 619.40,1086.30 622.80,1079.00 626.20,1086.80 631.10,1087.30 636.00,1091.20 639.90,1084.30 642.90,1095.10 645.80,1084.80 649.70,1090.70 653.60,1084.30 658.50,1092.70 663.40,1088.70 666.90,1094.60 670.30,1088.70 677.10,1087.80 684.00,1092.70 691.80,1092.20 697.70,1088.70 701.60,1093.60 711.40,1043.70" fill="none" stroke="#000" stroke-width="4.3" stroke-linejoin="miter" stroke-linecap="butt"/>
<line x1="324.30" y1="948.50" x2="341.48" y2="916.87" stroke="#000" stroke-width="5.4" stroke-linecap="butt"/>
<polygon points="354.60,892.70 351.11,923.23 330.89,912.26" fill="#000"/>
<line x1="512.40" y1="804.90" x2="472.02" y2="824.90" stroke="#05bc77" stroke-width="5.8" stroke-linecap="butt"/>
<polygon points="448.00,836.80 467.85,814.24 477.97,834.68" fill="#05bc77"/>
<text transform="translate(712.42,692.90) scale(1.0000,1)" font-family="'Liberation Sans', sans-serif" font-weight="bold" font-size="34.16" fill="#000">E</text>
<line x1="850.30" y1="723.00" x2="850.30" y2="1073.00" stroke="#000" stroke-width="3.6" stroke-linecap="butt"/>
<line x1="848.30" y1="1071.00" x2="1369.80" y2="1071.00" stroke="#000" stroke-width="3.6" stroke-linecap="butt"/>
<line x1="840.50" y1="1071.00" x2="850.30" y2="1071.00" stroke="#000" stroke-width="3.6" stroke-linecap="butt"/>
<line x1="840.50" y1="955.53" x2="850.30" y2="955.53" stroke="#000" stroke-width="3.6" stroke-linecap="butt"/>
<line x1="840.50" y1="840.07" x2="850.30" y2="840.07" stroke="#000" stroke-width="3.6" stroke-linecap="butt"/>
<line x1="840.50" y1="724.60" x2="850.30" y2="724.60" stroke="#000" stroke-width="3.6" stroke-linecap="butt"/>
<line x1="850.30" y1="1071.00" x2="850.30" y2="1080.70" stroke="#000" stroke-width="3.6" stroke-linecap="butt"/>
<line x1="1023.10" y1="1071.00" x2="1023.10" y2="1080.70" stroke="#000" stroke-width="3.6" stroke-linecap="butt"/>
<line x1="1195.90" y1="1071.00" x2="1195.90" y2="1080.70" stroke="#000" stroke-width="3.6" stroke-linecap="butt"/>
<line x1="1368.70" y1="1071.00" x2="1368.70" y2="1080.70" stroke="#000" stroke-width="3.6" stroke-linecap="butt"/>
<text transform="translate(822.50,1080.09) scale(1.0000,1)" font-family="'Liberation Sans', sans-serif" font-weight="bold" font-size="26.40" fill="#000">0</text>
<text transform="translate(807.82,964.62) scale(1.0000,1)" font-family="'Liberation Sans', sans-serif" font-weight="bold" font-size="26.40" fill="#000">10</text>
<text transform="translate(807.82,849.15) scale(1.0000,1)" font-family="'Liberation Sans', sans-serif" font-weight="bold" font-size="26.40" fill="#000">20</text>
<text transform="translate(807.82,733.67) scale(1.0000,1)" font-family="'Liberation Sans', sans-serif" font-weight="bold" font-size="26.40" fill="#000">30</text>
<text transform="translate(835.75,1109.84) scale(1.0000,1)" font-family="'Liberation Sans', sans-serif" font-weight="bold" font-size="26.40" fill="#000">50</text>
<text transform="translate(1000.79,1109.84) scale(1.0000,1)" font-family="'Liberation Sans', sans-serif" font-weight="bold" font-size="26.40" fill="#000">100</text>
<text transform="translate(1173.59,1109.84) scale(1.0000,1)" font-family="'Liberation Sans', sans-serif" font-weight="bold" font-size="26.40" fill="#000">150</text>
<text transform="translate(1346.76,1109.84) scale(1.0000,1)" font-family="'Liberation Sans', sans-serif" font-weight="bold" font-size="26.40" fill="#000">200</text>
<text transform="translate(874.59,736.90) scale(0.9746,1)" font-family="'Liberation Sans', sans-serif" font-weight="bold" font-size="33.58" fill="#000">APD</text>
<text transform="translate(971.64,1149.22) scale(0.9944,1)" font-family="'Liberation Sans', sans-serif" font-weight="bold" font-size="33.42" fill="#000">Cycle length (ms)</text>
<text transform="translate(798.99,1133.43) rotate(-90) scale(0.9615,1)" font-family="'Liberation Sans', sans-serif" font-weight="bold" font-size="34.76" fill="#000">APD alternans amplitude (ms)</text>
<polyline points="1097.40,797.34 1129.89,895.49 1163.76,1018.00 1198.49,1041.56 1235.30,1048.25 1264.33,1060.61 1273.31,1061.76" fill="none" stroke="#03955f" stroke-width="3.6" stroke-linejoin="round" stroke-linecap="butt"/>
<path d="M1097.40,771.83V822.86M1090.50,771.83H1104.30M1090.50,822.86H1104.30M1087.87,797.34H1106.94M1087.87,790.44V804.24M1106.94,790.44V804.24" stroke="#03955f" stroke-width="3.5" fill="none"/>
<polygon points="1089.90,803.36 1104.90,803.36 1097.40,789.36" fill="#03955f"/>
<path d="M1129.89,853.35V937.64M1122.99,853.35H1136.79M1122.99,937.64H1136.79M1120.39,895.49H1139.39M1120.39,888.59V902.39M1139.39,888.59V902.39" stroke="#03955f" stroke-width="3.5" fill="none"/>
<polygon points="1122.39,901.51 1137.39,901.51 1129.89,887.51" fill="#03955f"/>
<path d="M1163.76,1006.80V1029.20M1156.86,1006.80H1170.66M1156.86,1029.20H1170.66M1153.74,1018.00H1173.78M1153.74,1011.10V1024.90M1173.78,1011.10V1024.90" stroke="#03955f" stroke-width="3.5" fill="none"/>
<polygon points="1156.26,1024.02 1171.26,1024.02 1163.76,1010.02" fill="#03955f"/>
<path d="M1188.30,1041.56H1208.69M1188.30,1034.66V1048.46M1208.69,1034.66V1048.46" stroke="#03955f" stroke-width="3.5" fill="none"/>
<polygon points="1190.99,1047.58 1205.99,1047.58 1198.49,1033.58" fill="#03955f"/>
<path d="M1224.93,1048.25H1245.67M1224.93,1041.35V1055.15M1245.67,1041.35V1055.15" stroke="#03955f" stroke-width="3.5" fill="none"/>
<polygon points="1227.80,1054.27 1242.80,1054.27 1235.30,1040.27" fill="#03955f"/>
<path d="M1255.34,1060.61H1273.31M1255.34,1053.71V1067.51M1273.31,1053.71V1067.51" stroke="#03955f" stroke-width="3.5" fill="none"/>
<polygon points="1256.83,1066.63 1271.83,1066.63 1264.33,1052.63" fill="#03955f"/>
<path d="M1271.59,1061.76H1275.04M1271.59,1054.86V1068.66M1275.04,1054.86V1068.66" stroke="#03955f" stroke-width="3.5" fill="none"/>
<polygon points="1265.81,1067.78 1280.81,1067.78 1273.31,1053.78" fill="#03955f"/>
<polyline points="1015.15,909.35 1066.30,984.75 1101.55,1026.89 1134.38,1049.64 1169.98,1056.57 1203.85,1058.30 1222.86,1060.03" fill="none" stroke="#000" stroke-width="3.6" stroke-linejoin="round" stroke-linecap="butt"/>
<path d="M1015.15,891.33V927.36M1008.25,891.33H1022.05M1008.25,927.36H1022.05M1007.20,909.35H1023.10M1007.20,902.45V916.25M1023.10,902.45V916.25" stroke="#000" stroke-width="3.5" fill="none"/>
<circle cx="1015.15" cy="909.35" r="6.90" fill="#000"/>
<path d="M1066.30,969.50V999.99M1059.40,969.50H1073.20M1059.40,999.99H1073.20M1051.34,984.75H1081.26M1051.34,977.85V991.65M1081.26,977.85V991.65" stroke="#000" stroke-width="3.5" fill="none"/>
<circle cx="1066.30" cy="984.75" r="6.90" fill="#000"/>
<path d="M1101.55,1015.58V1038.21M1094.65,1015.58H1108.45M1094.65,1038.21H1108.45M1086.76,1026.89H1116.34M1086.76,1019.99V1033.79M1116.34,1019.99V1033.79" stroke="#000" stroke-width="3.5" fill="none"/>
<circle cx="1101.55" cy="1026.89" r="6.90" fill="#000"/>
<path d="M1119.42,1049.64H1149.35M1119.42,1042.74V1056.54M1149.35,1042.74V1056.54" stroke="#000" stroke-width="3.5" fill="none"/>
<circle cx="1134.38" cy="1049.64" r="6.90" fill="#000"/>
<path d="M1155.12,1056.57H1184.84M1155.12,1049.67V1063.47M1184.84,1049.67V1063.47" stroke="#000" stroke-width="3.5" fill="none"/>
<circle cx="1169.98" cy="1056.57" r="6.90" fill="#000"/>
<path d="M1188.99,1058.30H1218.71M1188.99,1051.40V1065.20M1218.71,1051.40V1065.20" stroke="#000" stroke-width="3.5" fill="none"/>
<circle cx="1203.85" cy="1058.30" r="6.90" fill="#000"/>
<path d="M1214.56,1060.03H1231.15M1214.56,1053.13V1066.93M1231.15,1053.13V1066.93" stroke="#000" stroke-width="3.5" fill="none"/>
<circle cx="1222.86" cy="1060.03" r="6.90" fill="#000"/>
<text transform="translate(733.88,1198.50) scale(1.0000,1)" font-family="'Liberation Sans', sans-serif" font-weight="bold" font-size="34.74" fill="#000">F</text>
<line x1="850.60" y1="1195.40" x2="850.60" y2="1546.50" stroke="#000" stroke-width="3.6" stroke-linecap="butt"/>
<line x1="848.60" y1="1544.50" x2="1370.00" y2="1544.50" stroke="#000" stroke-width="3.6" stroke-linecap="butt"/>
<line x1="840.90" y1="1544.50" x2="850.60" y2="1544.50" stroke="#000" stroke-width="3.6" stroke-linecap="butt"/>
<line x1="840.90" y1="1428.50" x2="850.60" y2="1428.50" stroke="#000" stroke-width="3.6" stroke-linecap="butt"/>
<line x1="840.90" y1="1312.50" x2="850.60" y2="1312.50" stroke="#000" stroke-width="3.6" stroke-linecap="butt"/>
<line x1="840.90" y1="1196.50" x2="850.60" y2="1196.50" stroke="#000" stroke-width="3.6" stroke-linecap="butt"/>
<line x1="850.60" y1="1544.50" x2="850.60" y2="1553.80" stroke="#000" stroke-width="3.6" stroke-linecap="butt"/>
<line x1="1023.70" y1="1544.50" x2="1023.70" y2="1553.80" stroke="#000" stroke-width="3.6" stroke-linecap="butt"/>
<line x1="1196.80" y1="1544.50" x2="1196.80" y2="1553.80" stroke="#000" stroke-width="3.6" stroke-linecap="butt"/>
<line x1="1369.90" y1="1544.50" x2="1369.90" y2="1553.80" stroke="#000" stroke-width="3.6" stroke-linecap="butt"/>
<text transform="translate(800.48,1553.59) scale(1.0000,1)" font-family="'Liberation Sans', sans-serif" font-weight="bold" font-size="26.40" fill="#000">0.0</text>
<text transform="translate(800.46,1437.59) scale(1.0000,1)" font-family="'Liberation Sans', sans-serif" font-weight="bold" font-size="26.40" fill="#000">0.2</text>
<text transform="translate(799.54,1321.59) scale(1.0000,1)" font-family="'Liberation Sans', sans-serif" font-weight="bold" font-size="26.40" fill="#000">0.4</text>
<text transform="translate(800.35,1205.59) scale(1.0000,1)" font-family="'Liberation Sans', sans-serif" font-weight="bold" font-size="26.40" fill="#000">0.6</text>
<text transform="translate(836.05,1584.24) scale(1.0000,1)" font-family="'Liberation Sans', sans-serif" font-weight="bold" font-size="26.40" fill="#000">50</text>
<text transform="translate(1001.39,1584.24) scale(1.0000,1)" font-family="'Liberation Sans', sans-serif" font-weight="bold" font-size="26.40" fill="#000">100</text>
<text transform="translate(1174.49,1584.24) scale(1.0000,1)" font-family="'Liberation Sans', sans-serif" font-weight="bold" font-size="26.40" fill="#000">150</text>
<text transform="translate(1347.96,1584.24) scale(1.0000,1)" font-family="'Liberation Sans', sans-serif" font-weight="bold" font-size="26.40" fill="#000">200</text>
<text transform="translate(875.21,1208.66) scale(0.9765,1)" font-family="'Liberation Sans', sans-serif" font-weight="bold" font-size="34.59" fill="#000">Ca transient</text>
<text transform="translate(972.23,1623.89) scale(0.9927,1)" font-family="'Liberation Sans', sans-serif" font-weight="bold" font-size="33.53" fill="#000">Cycle length (ms)</text>
<text transform="translate(792.77,1511.28) rotate(-90) scale(1.0072,1)" font-family="'Liberation Sans', sans-serif" font-weight="bold" font-size="33.50" fill="#000">Ca alternans ratio</text>
<polyline points="1097.79,1246.09 1130.33,1408.32 1163.91,1481.28 1198.88,1507.38 1234.88,1515.33 1263.96,1516.08 1274.35,1523.04" fill="none" stroke="#03955f" stroke-width="3.6" stroke-linejoin="round" stroke-linecap="butt"/>
<path d="M1097.79,1231.59V1260.59M1090.89,1231.59H1104.69M1090.89,1260.59H1104.69M1086.02,1246.09H1109.56M1086.02,1239.19V1252.99M1109.56,1239.19V1252.99" stroke="#03955f" stroke-width="3.5" fill="none"/>
<polygon points="1090.29,1252.11 1105.29,1252.11 1097.79,1238.11" fill="#03955f"/>
<path d="M1130.33,1387.03V1429.60M1123.43,1387.03H1137.23M1123.43,1429.60H1137.23M1118.77,1408.32H1141.89M1118.77,1401.42V1415.22M1141.89,1401.42V1415.22" stroke="#03955f" stroke-width="3.5" fill="none"/>
<polygon points="1122.83,1414.34 1137.83,1414.34 1130.33,1400.34" fill="#03955f"/>
<path d="M1163.91,1469.10V1493.46M1157.01,1469.10H1170.81M1157.01,1493.46H1170.81M1152.14,1481.28H1175.68M1152.14,1474.38V1488.18M1175.68,1474.38V1488.18" stroke="#03955f" stroke-width="3.5" fill="none"/>
<polygon points="1156.41,1487.30 1171.41,1487.30 1163.91,1473.30" fill="#03955f"/>
<path d="M1187.11,1507.38H1210.65M1187.11,1500.48V1514.28M1210.65,1500.48V1514.28" stroke="#03955f" stroke-width="3.5" fill="none"/>
<polygon points="1191.38,1513.40 1206.38,1513.40 1198.88,1499.40" fill="#03955f"/>
<path d="M1224.15,1515.33H1245.61M1224.15,1508.43V1522.23M1245.61,1508.43V1522.23" stroke="#03955f" stroke-width="3.5" fill="none"/>
<polygon points="1227.38,1521.35 1242.38,1521.35 1234.88,1507.35" fill="#03955f"/>
<path d="M1257.04,1516.08H1270.89M1257.04,1509.18V1522.98M1270.89,1509.18V1522.98" stroke="#03955f" stroke-width="3.5" fill="none"/>
<polygon points="1256.46,1522.10 1271.46,1522.10 1263.96,1508.10" fill="#03955f"/>
<path d="M1272.62,1523.04H1276.08M1272.62,1516.14V1529.94M1276.08,1516.14V1529.94" stroke="#03955f" stroke-width="3.5" fill="none"/>
<polygon points="1266.85,1529.06 1281.85,1529.06 1274.35,1515.06" fill="#03955f"/>
<polyline points="1013.31,1253.57 1068.36,1417.48 1102.98,1483.02 1135.87,1510.28 1171.87,1520.89 1206.15,1522.40 1222.07,1528.26" fill="none" stroke="#000" stroke-width="3.6" stroke-linejoin="round" stroke-linecap="butt"/>
<path d="M1013.31,1231.53V1275.61M1006.41,1231.53H1020.21M1006.41,1275.61H1020.21M1004.07,1253.57H1022.56M1004.07,1246.67V1260.47M1022.56,1246.67V1260.47" stroke="#000" stroke-width="3.5" fill="none"/>
<circle cx="1013.31" cy="1253.57" r="6.90" fill="#000"/>
<path d="M1068.36,1404.72V1430.24M1061.46,1404.72H1075.26M1061.46,1430.24H1075.26M1050.25,1417.48H1086.47M1050.25,1410.58V1424.38M1086.47,1410.58V1424.38" stroke="#000" stroke-width="3.5" fill="none"/>
<circle cx="1068.36" cy="1417.48" r="6.90" fill="#000"/>
<path d="M1084.77,1483.02H1121.19M1084.77,1476.12V1489.92M1121.19,1476.12V1489.92" stroke="#000" stroke-width="3.5" fill="none"/>
<circle cx="1102.98" cy="1483.02" r="6.90" fill="#000"/>
<path d="M1117.97,1510.28H1153.77M1117.97,1503.38V1517.18M1153.77,1503.38V1517.18" stroke="#000" stroke-width="3.5" fill="none"/>
<circle cx="1135.87" cy="1510.28" r="6.90" fill="#000"/>
<path d="M1154.22,1520.89H1189.53M1154.22,1513.99V1527.79M1189.53,1513.99V1527.79" stroke="#000" stroke-width="3.5" fill="none"/>
<circle cx="1171.87" cy="1520.89" r="6.90" fill="#000"/>
<path d="M1188.84,1522.40H1223.46M1188.84,1515.50V1529.30M1223.46,1515.50V1529.30" stroke="#000" stroke-width="3.5" fill="none"/>
<circle cx="1206.15" cy="1522.40" r="6.90" fill="#000"/>
<path d="M1213.07,1528.26H1231.07M1213.07,1521.36V1535.16M1231.07,1521.36V1535.16" stroke="#000" stroke-width="3.5" fill="none"/>
<circle cx="1222.07" cy="1528.26" r="6.90" fill="#000"/>
<line x1="834.70" y1="1678.90" x2="875.60" y2="1678.90" stroke="#000" stroke-width="4" stroke-linecap="butt"/>
<circle cx="855.70" cy="1678.80" r="7.30" fill="#000"/>
<text transform="translate(899.49,1689.59) scale(1.0167,1)" font-family="'Liberation Sans', sans-serif" font-weight="bold" font-size="31.46" fill="#000">Control</text>
<line x1="1074.90" y1="1677.30" x2="1115.80" y2="1677.30" stroke="#03955f" stroke-width="4" stroke-linecap="butt"/>
<polygon points="1088.10,1683.62 1103.10,1683.62 1095.60,1668.92" fill="#03955f"/>
<text x="1139" y="1689.9" font-family="&#39;Liberation Sans&#39;, sans-serif" font-weight="bold" font-size="31.7" fill="#000">+CPA (10<tspan font-family="&#39;Liberation Serif&#39;, serif" font-weight="normal">μ</tspan>mol/L)</text>
<text transform="translate(15.35,1198.46) scale(1.0000,1)" font-family="'Liberation Sans', sans-serif" font-weight="bold" font-size="35.31" fill="#000">C</text>
<line x1="164.50" y1="1257.40" x2="164.50" y2="1529.80" stroke="#000" stroke-width="3.0" stroke-linecap="butt"/>
<line x1="157.20" y1="1528.30" x2="346.00" y2="1528.30" stroke="#000" stroke-width="3.0" stroke-linecap="butt"/>
<line x1="157.20" y1="1528.30" x2="164.50" y2="1528.30" stroke="#000" stroke-width="3.0" stroke-linecap="butt"/>
<line x1="157.20" y1="1438.20" x2="164.50" y2="1438.20" stroke="#000" stroke-width="3.0" stroke-linecap="butt"/>
<line x1="157.20" y1="1348.10" x2="164.50" y2="1348.10" stroke="#000" stroke-width="3.0" stroke-linecap="butt"/>
<line x1="157.20" y1="1258.00" x2="164.50" y2="1258.00" stroke="#000" stroke-width="3.0" stroke-linecap="butt"/>
<line x1="215.30" y1="1528.30" x2="215.30" y2="1535.90" stroke="#000" stroke-width="3.0" stroke-linecap="butt"/>
<line x1="292.90" y1="1528.30" x2="292.90" y2="1535.90" stroke="#000" stroke-width="3.0" stroke-linecap="butt"/>
<text transform="translate(142.38,1535.53) scale(1.0000,1)" font-family="'Liberation Sans', sans-serif" font-weight="bold" font-size="21.00" fill="#000">0</text>
<text transform="translate(130.70,1445.43) scale(1.0000,1)" font-family="'Liberation Sans', sans-serif" font-weight="bold" font-size="21.00" fill="#000">40</text>
<text transform="translate(130.70,1355.33) scale(1.0000,1)" font-family="'Liberation Sans', sans-serif" font-weight="bold" font-size="21.00" fill="#000">80</text>
<text transform="translate(119.02,1265.23) scale(1.0000,1)" font-family="'Liberation Sans', sans-serif" font-weight="bold" font-size="21.00" fill="#000">120</text>
<rect x="190.30" y="1339.10" width="51.10" height="189.20" fill="#000"/>
<rect x="194.30" y="1343.10" width="43.10" height="185.20" fill="#f4f4f4"/>
<rect x="195.30" y="1344.10" width="41.10" height="184.20" fill="#d3d3d3"/>
<rect x="267.40" y="1312.60" width="51.10" height="215.70" fill="#000"/>
<rect x="271.40" y="1316.60" width="43.10" height="211.70" fill="#12b574"/>
<rect x="272.40" y="1317.60" width="41.10" height="210.70" fill="#0a9860"/>
<line x1="207.70" y1="1280.00" x2="292.90" y2="1280.00" stroke="#000" stroke-width="3.9" stroke-linecap="butt"/>
<path d="M243.40,1263.30L243.40,1256.70M243.40,1263.30L249.68,1261.26M243.40,1263.30L247.28,1268.64M243.40,1263.30L239.52,1268.64M243.40,1263.30L237.12,1261.26" stroke="#000" stroke-width="3.1" fill="none" stroke-linecap="butt"/>
<path d="M258.70,1263.30L258.70,1256.70M258.70,1263.30L264.98,1261.26M258.70,1263.30L262.58,1268.64M258.70,1263.30L254.82,1268.64M258.70,1263.30L252.42,1261.26" stroke="#000" stroke-width="3.1" fill="none" stroke-linecap="butt"/>
<text transform="translate(272.66,1265.54) scale(1.0490,1)" font-family="'Liberation Sans', sans-serif" font-weight="normal" font-size="21.99" fill="#000">[14±3%]</text>
<line x1="215.60" y1="1332.80" x2="215.60" y2="1339.00" stroke="#000" stroke-width="2.5" stroke-linecap="butt"/>
<line x1="203.00" y1="1332.80" x2="228.00" y2="1332.80" stroke="#000" stroke-width="2.5" stroke-linecap="butt"/>
<line x1="205" y1="1335.3" x2="226" y2="1335.3" stroke="#fff" stroke-width="1.2"/>
<circle cx="207.3" cy="1325.6" r="6.5" fill="#000" stroke="#fff" stroke-width="0.7"/>
<circle cx="223.8" cy="1323.6" r="6.5" fill="#000" stroke="#fff" stroke-width="0.7"/>
<circle cx="232.2" cy="1336.7" r="6.5" fill="#000" stroke="#fff" stroke-width="0.7"/>
<circle cx="199.5" cy="1344" r="6.5" fill="#000" stroke="#fff" stroke-width="0.7"/>
<circle cx="215.9" cy="1343.6" r="6.5" fill="#000" stroke="#fff" stroke-width="0.7"/>
<circle cx="215.9" cy="1362.2" r="6.5" fill="#000" stroke="#fff" stroke-width="0.7"/>
<rect x="287.30" y="1293.30" width="11.20" height="11.20" fill="#000"/>
<rect x="269.10" y="1302.30" width="11.20" height="11.20" fill="#000"/>
<rect x="305.50" y="1302.30" width="11.20" height="11.20" fill="#000"/>
<rect x="281.40" y="1305.70" width="11.20" height="11.20" fill="#000"/>
<rect x="293.20" y="1310.60" width="11.20" height="11.20" fill="#000"/>
<rect x="287.30" y="1326.60" width="11.20" height="11.20" fill="#000"/>
<line x1="281.00" y1="1307.60" x2="306.00" y2="1307.60" stroke="#000" stroke-width="3" stroke-linecap="butt"/>
<line x1="284" y1="1310.4" x2="304" y2="1310.4" stroke="#fff" stroke-width="1.5"/>
<text transform="translate(109.97,1619.44) rotate(-90) scale(0.9942,1)" font-family="'Liberation Sans', sans-serif" font-weight="bold" font-size="26.18" fill="#000">Peak to 50% Ca transient decay (ms)</text>
<text transform="translate(224.00,1556.50) rotate(-45)" text-anchor="end" font-family="'Liberation Sans', sans-serif" font-weight="bold" font-size="26.00" fill="#000">Control</text>
<text transform="translate(302.50,1556.50) rotate(-45)" text-anchor="end" font-family="'Liberation Sans', sans-serif" font-weight="bold" font-size="26.40" fill="#000">+CPA (10<tspan font-family="&#39;Liberation Serif&#39;, serif" font-weight="normal">μ</tspan>mol/L)</text>
<text transform="translate(404.72,1198.20) scale(1.0000,1)" font-family="'Liberation Sans', sans-serif" font-weight="bold" font-size="34.16" fill="#000">D</text>
<line x1="501.70" y1="1251.90" x2="501.70" y2="1522.60" stroke="#000" stroke-width="2.9" stroke-linecap="butt"/>
<line x1="494.10" y1="1521.10" x2="680.50" y2="1521.10" stroke="#000" stroke-width="3.0" stroke-linecap="butt"/>
<line x1="494.00" y1="1521.10" x2="501.70" y2="1521.10" stroke="#000" stroke-width="2.9" stroke-linecap="butt"/>
<line x1="494.00" y1="1431.60" x2="501.70" y2="1431.60" stroke="#000" stroke-width="2.9" stroke-linecap="butt"/>
<line x1="494.00" y1="1342.10" x2="501.70" y2="1342.10" stroke="#000" stroke-width="2.9" stroke-linecap="butt"/>
<line x1="494.00" y1="1252.60" x2="501.70" y2="1252.60" stroke="#000" stroke-width="2.9" stroke-linecap="butt"/>
<line x1="552.60" y1="1521.10" x2="552.60" y2="1529.60" stroke="#000" stroke-width="3.0" stroke-linecap="butt"/>
<line x1="628.70" y1="1521.10" x2="628.70" y2="1529.60" stroke="#000" stroke-width="3.0" stroke-linecap="butt"/>
<text transform="translate(479.28,1528.33) scale(1.0000,1)" font-family="'Liberation Sans', sans-serif" font-weight="bold" font-size="21.00" fill="#000">0</text>
<text transform="translate(467.60,1438.83) scale(1.0000,1)" font-family="'Liberation Sans', sans-serif" font-weight="bold" font-size="21.00" fill="#000">50</text>
<text transform="translate(455.92,1349.33) scale(1.0000,1)" font-family="'Liberation Sans', sans-serif" font-weight="bold" font-size="21.00" fill="#000">100</text>
<text transform="translate(455.92,1259.83) scale(1.0000,1)" font-family="'Liberation Sans', sans-serif" font-weight="bold" font-size="21.00" fill="#000">150</text>
<rect x="527.70" y="1317.70" width="49.90" height="203.40" fill="#000"/>
<rect x="531.70" y="1321.70" width="41.90" height="199.40" fill="#f4f4f4"/>
<rect x="532.70" y="1322.70" width="39.90" height="198.40" fill="#d3d3d3"/>
<rect x="603.10" y="1298.50" width="50.90" height="222.60" fill="#000"/>
<rect x="607.10" y="1302.50" width="42.90" height="218.60" fill="#12b574"/>
<rect x="608.10" y="1303.50" width="40.90" height="217.60" fill="#0a9860"/>
<line x1="544.30" y1="1274.30" x2="628.00" y2="1274.30" stroke="#000" stroke-width="3.9" stroke-linecap="butt"/>
<path d="M579.60,1256.40L579.60,1249.80M579.60,1256.40L585.88,1254.36M579.60,1256.40L583.48,1261.74M579.60,1256.40L575.72,1261.74M579.60,1256.40L573.32,1254.36" stroke="#000" stroke-width="3.1" fill="none" stroke-linecap="butt"/>
<path d="M595.30,1256.40L595.30,1249.80M595.30,1256.40L601.58,1254.36M595.30,1256.40L599.18,1261.74M595.30,1256.40L591.42,1261.74M595.30,1256.40L589.02,1254.36" stroke="#000" stroke-width="3.1" fill="none" stroke-linecap="butt"/>
<text transform="translate(609.29,1260.40) scale(1.0397,1)" font-family="'Liberation Sans', sans-serif" font-weight="normal" font-size="21.67" fill="#000">[10±2%]</text>
<line x1="540.00" y1="1315.00" x2="566.00" y2="1315.00" stroke="#000" stroke-width="2.5" stroke-linecap="butt"/>
<line x1="542" y1="1317.3" x2="564" y2="1317.3" stroke="#fff" stroke-width="1.3"/>
<circle cx="534.2" cy="1317.3" r="5.6" fill="#000" stroke="#fff" stroke-width="0.7"/>
<circle cx="546.4" cy="1308.5" r="5.6" fill="#000" stroke="#fff" stroke-width="0.7"/>
<circle cx="558.2" cy="1311.9" r="5.6" fill="#000" stroke="#fff" stroke-width="0.7"/>
<circle cx="570.4" cy="1315.4" r="5.6" fill="#000" stroke="#fff" stroke-width="0.7"/>
<circle cx="545.9" cy="1325.2" r="5.6" fill="#000" stroke="#fff" stroke-width="0.7"/>
<circle cx="558.2" cy="1325.2" r="5.6" fill="#000" stroke="#fff" stroke-width="0.7"/>
<rect x="602.40" y="1291.40" width="10.20" height="10.20" fill="#000"/>
<rect x="610.90" y="1292.90" width="10.20" height="10.20" fill="#000"/>
<rect x="618.70" y="1298.50" width="10.20" height="10.20" fill="#000"/>
<rect x="628.50" y="1297.90" width="10.20" height="10.20" fill="#000"/>
<rect x="635.90" y="1289.90" width="10.20" height="10.20" fill="#000"/>
<rect x="644.90" y="1289.20" width="10.20" height="10.20" fill="#000"/>
<text transform="translate(454.36,1521.94) rotate(-90) scale(0.9582,1)" font-family="'Liberation Sans', sans-serif" font-weight="bold" font-size="26.71" fill="#000">APD @170ms CL (ms)</text>
<text transform="translate(561.00,1550.00) rotate(-45)" text-anchor="end" font-family="'Liberation Sans', sans-serif" font-weight="bold" font-size="26.00" fill="#000">Control</text>
<text transform="translate(638.50,1550.50) rotate(-45)" text-anchor="end" font-family="'Liberation Sans', sans-serif" font-weight="bold" font-size="26.40" fill="#000">+CPA (10<tspan font-family="&#39;Liberation Serif&#39;, serif" font-weight="normal">μ</tspan>mol/L)</text>
</svg></body></html>
